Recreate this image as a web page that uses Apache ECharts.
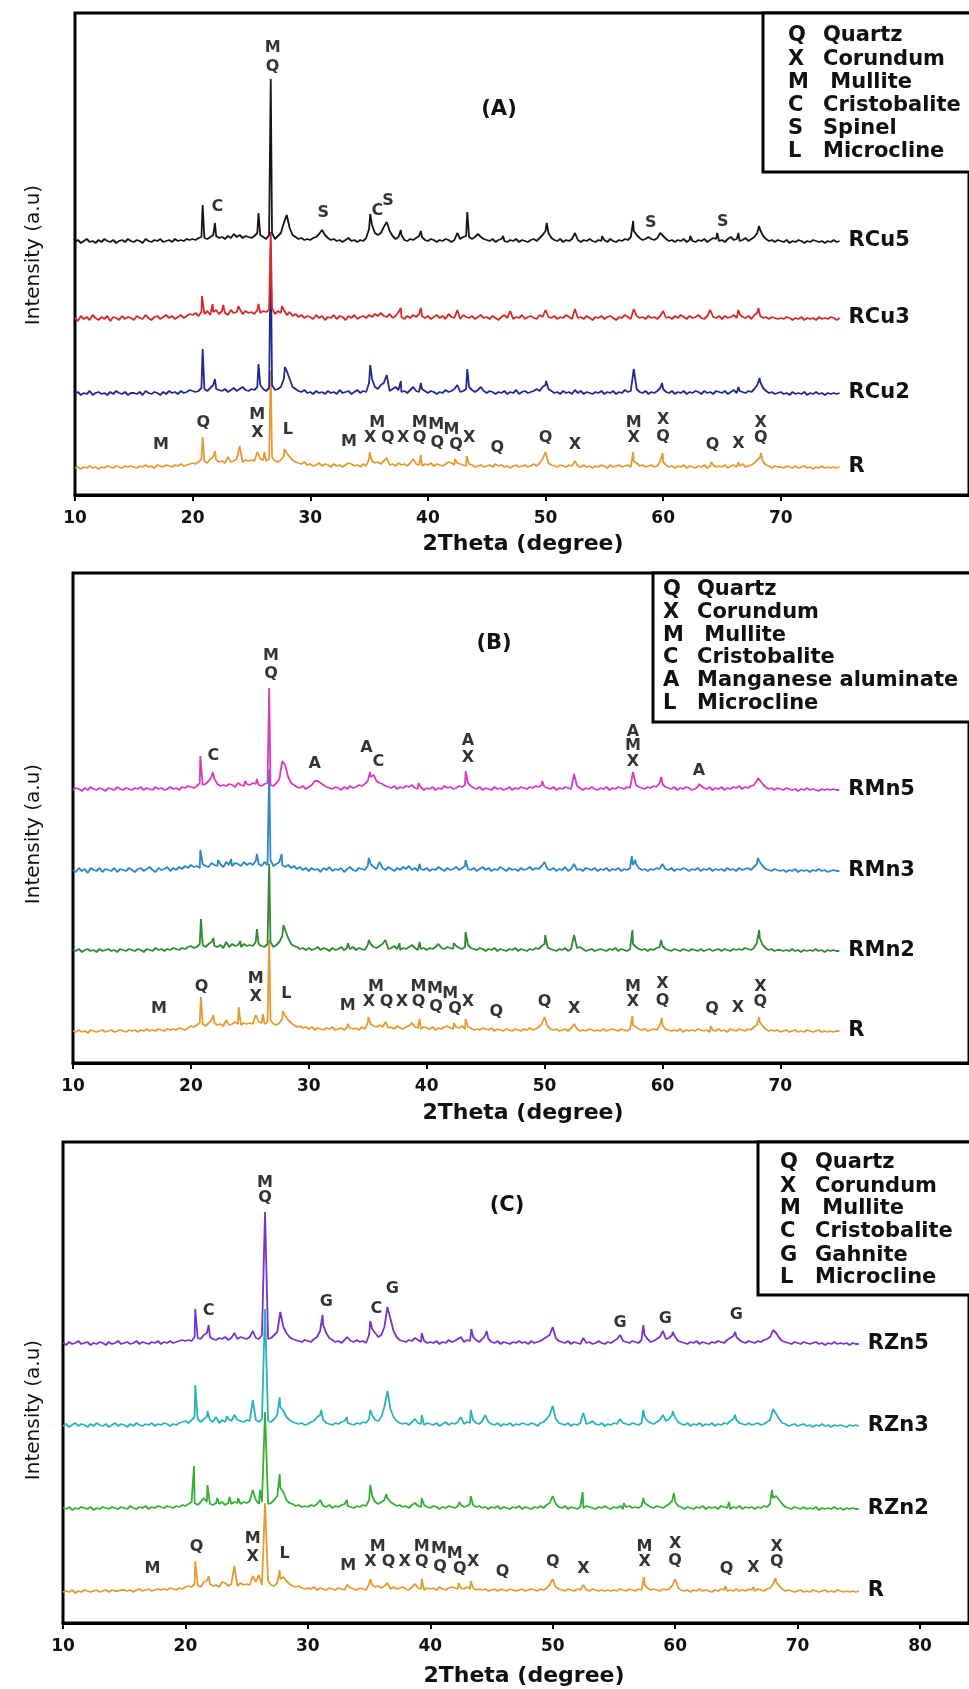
<!DOCTYPE html>
<html>
<head>
<meta charset="utf-8">
<script src="https://cdn.jsdelivr.net/npm/echarts@6/dist/echarts.min.js"></script>
<style>
html,body{margin:0;padding:0;background:#fff;}
#chart{width:969px;height:1689px;}
</style>
</head>
<body>
<div id="chart"></div>
<script>
// ---------- DATA ----------
// 2Theta scan: 10° to 75°, step 0.25°
const scanStart = 10;
const scanStep = 0.25;

const xTicksAB = [10, 20, 30, 40, 50, 60, 70];
const xTicksC = [10, 20, 30, 40, 50, 60, 70, 80];

const namesA = ['R', 'RCu2', 'RCu3', 'RCu5'];
const namesB = ['R', 'RMn2', 'RMn3', 'RMn5'];
const namesC = ['R', 'RZn2', 'RZn3', 'RZn5'];

// vertical offsets of the stacked patterns (a.u.)
const offsetsA = [24, 98, 173, 250];
const offsetsB = [28, 109, 189, 270];
const offsetsC = [28, 111, 194, 276];

const colorsA = ['#e89a32', '#22288f', '#d82a2a', '#151515'];
const colorsB = ['#e89a32', '#2e8a30', '#2b88c8', '#d53cc4'];
const colorsC = ['#e89a32', '#34b034', '#2ab4b8', '#7b32c6'];

// background profiles (intensity every 0.25°)
const profR_A = [
3,4,2,4,3,5,3,4,2,4,3,5,4,3,5,4,3,5,4,5,
4,3,5,4,6,4,5,3,6,5,4,6,5,4,6,5,7,5,6,7,
8,7,9,12,10,8,12,14,11,9,10,8,11,9,10,12,10,9,11,10,
11,10,13,12,11,10,12,14,10,9,11,15,18,14,11,9,8,7,9,6,
7,5,6,8,5,7,6,4,7,5,6,4,6,8,7,5,6,4,7,5,
12,10,8,9,7,10,8,6,7,5,8,6,7,5,8,12,7,6,5,7,
6,8,5,7,6,5,7,9,8,6,8,7,6,5,7,6,4,5,6,4,
5,6,4,7,5,6,4,5,3,5,6,4,5,6,4,5,7,5,8,12,
13,8,6,5,4,6,5,4,6,5,8,5,4,6,4,5,3,5,4,6,
5,3,6,4,5,6,4,5,6,4,10,8,5,6,4,5,6,4,5,10,
9,6,4,5,3,5,4,6,3,5,4,3,5,4,6,3,5,6,4,5,
4,6,3,5,6,4,5,7,4,5,6,8,11,14,9,6,5,3,5,4,
4,3,5,4,3,5,3,4,5,3,4,2,4,3,5,3,4,3,4,3,
4];
const profRCu2 = [
3,5,2,4,3,6,2,4,5,3,4,2,5,3,6,4,3,5,2,4,
4,3,5,2,6,4,3,5,4,2,5,3,6,4,5,3,6,4,5,7,
6,5,6,9,8,6,9,12,8,7,6,8,5,7,9,6,8,10,7,6,
8,7,10,12,8,6,9,12,7,8,10,18,26,18,10,8,6,5,7,4,
5,3,6,4,5,3,6,4,5,3,7,4,5,6,3,5,7,4,6,5,
14,18,10,8,12,14,9,6,8,10,7,5,6,4,7,10,6,5,8,6,
4,6,5,3,5,4,7,5,6,8,7,5,6,8,10,7,5,7,10,6,
4,6,5,3,5,4,6,3,5,4,7,3,5,6,4,5,6,8,6,10,
12,8,6,4,5,3,6,4,5,3,7,4,6,3,5,4,3,5,4,6,
3,5,4,6,3,5,4,7,5,6,12,8,5,4,6,3,5,4,6,9,
8,5,4,6,3,5,4,6,3,5,4,6,5,3,6,4,5,3,6,5,
4,6,3,5,7,4,6,5,4,6,5,8,12,15,9,6,4,5,3,4,
5,3,4,2,5,3,4,3,5,2,4,3,5,3,4,2,4,3,4,3,
4];
const profRCu3 = [
4,1,6,3,5,2,7,4,2,5,3,6,1,5,4,2,6,3,5,4,
2,6,4,3,7,4,2,5,6,3,5,7,4,6,3,5,7,4,6,8,
7,9,6,10,8,11,7,10,12,8,11,9,7,12,9,10,13,8,11,9,
10,8,12,9,11,10,12,14,8,11,9,12,7,10,6,8,5,7,4,6,
5,3,7,4,6,2,5,4,7,3,6,5,2,6,4,7,3,5,6,4,
7,5,8,6,9,6,5,8,4,6,10,5,3,6,4,7,5,8,6,4,
6,3,5,7,4,6,3,8,5,4,6,3,7,5,4,6,3,5,7,4,
5,3,6,4,2,5,7,4,6,3,5,4,7,3,5,6,4,3,7,5,
8,5,4,6,3,5,4,7,5,3,8,4,5,3,6,4,2,5,4,6,
3,5,6,4,2,5,4,7,5,3,8,6,4,5,3,6,4,5,3,6,
7,4,5,3,6,4,7,5,3,6,4,5,7,4,3,6,8,5,4,6,
3,6,4,5,7,4,8,5,4,6,3,7,9,6,4,5,3,5,4,3,
4,3,5,4,2,4,3,5,2,4,3,4,2,5,3,4,3,5,4,2,
4];
const profRCu5 = [
3,5,2,4,6,3,4,2,5,3,6,4,3,5,2,4,5,3,6,4,
3,5,4,2,6,4,3,5,4,6,3,4,5,3,6,4,5,4,6,5,
6,5,7,8,7,6,8,10,9,7,8,6,9,7,11,8,10,7,9,8,
7,9,12,10,8,6,10,12,6,9,12,22,30,17,10,8,6,7,5,6,
5,7,8,11,15,10,7,5,6,4,5,3,5,7,4,5,3,5,4,7,
16,20,12,10,12,18,23,14,9,6,8,10,5,4,6,5,7,9,8,5,
4,6,5,3,5,4,6,5,3,5,7,6,8,9,8,6,8,11,8,6,
5,4,6,3,5,6,4,3,5,4,6,3,5,4,3,5,6,4,7,10,
14,12,7,5,4,6,3,5,4,6,9,5,3,5,4,6,4,3,5,4,
5,3,6,4,3,5,4,6,5,8,14,10,7,5,6,8,6,5,7,12,
9,6,4,5,3,5,4,6,3,5,4,3,5,4,6,3,5,7,6,4,
5,3,6,8,5,6,4,5,7,4,6,8,12,15,9,6,4,5,3,5,
4,3,5,2,4,3,5,4,2,4,3,5,4,3,4,2,4,3,5,3,
4];

const profR_B = [
4,3,5,3,4,2,5,4,3,4,5,3,4,5,3,4,5,4,3,5,
4,5,3,5,4,6,4,5,4,6,5,4,6,5,6,5,7,6,5,7,
9,8,10,12,11,9,12,15,12,10,11,9,12,10,11,13,11,10,12,11,
12,11,14,13,12,11,13,15,11,10,12,16,19,15,12,10,8,9,7,8,
6,8,5,7,6,5,7,6,8,5,6,7,5,8,7,6,7,5,8,6,
12,11,9,8,10,8,9,7,8,6,9,7,6,8,9,12,8,7,6,8,
7,6,8,5,7,6,8,9,7,6,8,7,9,6,8,7,5,6,5,7,
6,5,7,4,6,5,4,6,5,4,6,5,4,6,5,7,5,6,8,11,
12,9,6,5,6,4,5,6,4,7,5,6,4,5,4,6,5,4,5,4,
6,4,5,6,5,4,6,5,4,6,10,8,6,5,6,4,5,6,5,9,
10,6,5,4,5,4,6,3,5,4,5,4,6,5,4,5,3,5,4,6,
4,5,3,6,5,4,6,5,4,6,5,8,10,13,9,6,4,5,4,5,
3,4,5,3,4,5,3,4,3,5,4,3,4,5,3,4,3,4,3,4,
4];
const profRMn2 = [
4,3,5,2,4,5,3,4,2,5,3,4,5,3,4,2,5,4,3,5,
4,3,5,4,2,5,4,3,6,4,5,3,5,4,6,5,4,6,5,7,
8,6,7,10,9,7,10,12,8,7,9,6,8,7,10,8,9,7,10,8,
9,8,12,10,8,7,10,12,7,9,12,18,24,16,10,8,7,5,6,4,
6,4,5,7,4,6,5,3,6,4,5,7,4,6,5,7,4,6,5,4,
9,10,7,6,8,10,7,5,6,8,5,4,6,5,7,9,6,4,5,6,
4,6,5,7,4,6,5,7,6,5,8,6,5,7,9,6,5,4,6,5,
3,5,4,6,3,5,4,3,5,4,6,3,5,4,3,5,4,6,5,8,
10,7,5,4,3,5,4,6,3,5,4,6,7,5,3,4,5,3,4,5,
4,3,5,4,6,3,5,4,3,5,10,7,5,4,5,3,5,4,6,7,
8,5,4,3,5,4,3,5,4,3,5,4,3,5,3,4,5,3,4,5,
3,5,4,3,5,4,5,4,6,5,4,6,11,16,9,6,4,5,3,4,
4,3,4,3,5,3,4,2,4,3,4,3,5,3,4,2,4,3,4,3,
3];
const profRMn3 = [
4,2,6,3,5,1,6,4,3,6,2,5,4,3,6,2,5,4,3,6,
4,2,5,6,3,5,7,4,2,6,4,5,7,3,6,4,7,5,8,6,
9,7,8,6,10,8,7,11,9,8,10,7,12,9,8,11,10,8,12,9,
11,9,13,10,8,12,9,14,8,10,12,9,7,9,6,8,5,7,4,6,
3,6,4,5,2,6,4,7,3,5,4,6,2,5,7,4,3,6,5,4,
8,10,7,5,9,6,4,7,5,3,6,4,7,5,8,4,6,3,5,4,
6,3,5,4,7,5,3,6,4,5,7,4,6,8,5,4,6,3,5,7,
4,6,3,5,4,7,5,3,6,4,5,3,6,4,5,7,4,6,5,8,
7,5,4,6,3,5,4,7,3,5,6,4,5,3,6,5,4,6,3,5,
4,6,3,5,4,6,3,5,4,6,9,10,6,4,5,3,5,4,6,5,
7,5,4,6,3,5,4,6,5,3,5,4,6,3,5,4,6,3,5,4,
5,3,6,4,5,3,6,4,5,6,4,7,10,12,8,5,4,3,5,4,
3,4,2,4,3,5,2,4,3,4,2,4,3,5,3,4,2,3,4,3,
3];
const profRMn5 = [
3,5,4,2,5,3,6,4,3,5,4,2,5,4,3,6,4,3,5,4,
3,5,4,6,3,5,4,3,6,4,5,3,4,6,4,5,3,6,5,7,
6,5,7,10,8,9,12,16,14,9,7,8,7,9,8,6,10,8,7,9,
8,10,9,8,7,9,10,8,7,10,14,22,28,16,10,8,6,5,7,4,
6,8,10,12,10,8,6,5,4,6,5,3,6,4,7,5,6,8,7,9,
12,16,18,12,10,9,7,6,5,7,4,6,5,7,6,8,5,4,6,3,
5,4,6,3,5,4,7,5,6,4,5,7,6,8,10,7,5,4,6,3,
5,4,3,6,4,5,3,4,6,3,5,4,6,5,4,6,5,7,6,8,
6,5,4,6,3,5,4,6,5,4,6,7,5,3,5,4,6,4,3,5,
4,6,3,5,4,6,5,4,6,5,14,8,6,5,4,6,5,7,6,10,
9,6,5,4,6,3,5,4,6,5,3,4,6,7,5,4,6,3,5,4,
6,3,5,4,6,5,7,4,6,5,7,8,12,14,9,6,4,5,3,5,
4,3,5,4,3,4,2,4,3,5,3,4,3,2,4,3,4,3,4,3,
3];

const profR_C = [
3,4,3,5,2,4,3,5,4,3,4,5,3,4,5,3,5,4,4,5,
5,4,5,3,5,6,4,5,6,4,5,6,5,6,5,7,6,5,7,6,
8,9,8,11,10,8,13,14,11,9,10,8,10,12,9,11,10,9,12,10,
11,10,12,13,11,10,12,14,10,9,12,16,18,14,11,9,8,9,7,6,
7,6,8,5,7,6,5,7,6,5,7,6,5,8,7,6,5,7,6,5,
11,10,8,9,7,9,8,6,8,6,7,8,6,5,8,11,7,6,5,7,
6,7,5,8,6,5,7,8,7,6,7,6,8,6,7,5,6,5,6,4,
5,6,4,6,5,4,6,5,4,5,6,4,5,6,5,4,6,5,7,10,
12,8,6,5,4,6,5,4,6,5,7,5,4,6,5,4,5,4,5,4,
5,4,6,5,4,6,5,4,6,5,10,7,5,6,5,4,6,5,6,9,
11,7,5,4,5,3,5,4,6,4,5,4,3,5,4,6,5,4,5,4,
6,4,5,4,6,5,4,6,5,4,6,7,11,13,9,6,4,5,4,3,
4,5,3,4,3,5,4,3,4,5,3,4,3,5,4,3,4,3,4,3,
4];
const profRZn2 = [
4,3,5,2,4,3,5,4,3,5,2,4,3,5,4,3,5,4,3,5,
4,3,6,4,3,5,4,6,3,5,4,6,5,4,6,5,4,6,5,7,
6,8,10,9,7,10,14,10,8,7,9,8,10,7,9,8,10,9,8,10,
9,11,10,12,8,10,12,8,9,12,16,24,20,12,9,8,6,7,5,6,
5,7,6,8,9,6,5,7,4,6,5,7,8,6,5,4,6,5,7,6,
12,16,10,8,10,12,14,10,8,6,7,5,6,4,7,9,6,5,7,5,
4,6,5,3,5,4,6,5,4,6,7,5,6,8,7,5,6,4,5,3,
5,4,6,3,5,4,3,5,4,6,3,5,4,3,5,4,6,4,7,9,
11,8,5,4,6,3,5,4,3,5,4,6,5,4,3,5,4,6,4,3,
5,4,6,3,5,6,4,5,4,6,9,7,5,4,6,5,4,6,8,11,
10,6,5,3,5,4,3,5,4,6,3,5,4,5,3,6,5,4,3,5,
4,6,3,5,4,5,3,5,4,6,5,8,14,16,12,8,5,4,3,5,
4,3,5,3,4,3,5,2,4,3,4,3,5,3,4,2,4,3,4,3,
3];
const profRZn3 = [
3,5,2,4,6,3,5,4,2,5,3,6,4,3,5,2,4,6,3,5,
4,2,5,3,6,4,3,5,4,6,3,5,4,6,5,3,5,4,6,7,
8,6,9,12,10,7,10,12,9,7,8,6,9,7,10,8,7,9,8,7,
9,8,10,9,7,10,9,8,7,10,14,22,18,12,9,7,6,5,6,4,
5,7,8,12,14,9,6,5,4,6,5,7,8,6,5,4,6,5,7,6,
10,14,9,8,12,22,28,20,12,8,6,5,6,4,7,10,6,5,4,6,
5,4,6,3,5,7,4,6,5,7,6,5,7,6,9,6,5,8,10,7,
5,4,6,3,5,4,6,3,5,4,6,5,4,6,5,3,6,7,10,14,
16,10,6,5,4,6,3,5,4,6,4,5,6,8,5,4,6,3,5,4,
6,5,8,6,5,4,6,5,4,6,12,8,6,5,7,9,10,8,10,14,
11,7,5,4,6,3,5,4,6,3,5,4,6,3,5,4,6,5,8,10,
9,6,5,4,6,4,5,6,4,5,7,9,13,15,10,6,5,3,4,5,
3,4,5,3,4,2,4,3,5,3,4,2,4,3,4,3,2,4,3,4,
3];
const profRZn5 = [
4,2,5,3,4,6,3,4,5,2,4,3,5,4,2,5,3,4,6,3,
4,5,3,4,6,3,5,4,3,5,4,6,3,5,4,6,4,5,6,7,
6,7,6,10,9,8,12,14,10,8,7,9,8,10,7,9,11,8,10,9,
8,10,11,9,8,12,10,8,9,12,15,24,20,14,10,8,7,6,5,7,
6,5,8,10,16,22,14,9,7,5,6,4,7,8,6,5,7,5,6,4,
12,18,14,10,12,20,30,28,16,10,7,6,5,7,6,9,7,5,6,4,
5,4,6,3,5,4,7,5,6,8,6,5,7,6,10,7,5,8,12,8,
5,4,6,3,5,4,3,5,4,6,4,5,3,6,4,5,6,8,10,12,
14,9,6,5,4,6,3,5,4,3,6,4,5,3,4,6,4,3,5,4,
6,8,10,6,5,4,6,5,4,7,12,8,5,6,8,10,12,8,9,12,
10,6,5,4,3,5,4,6,3,5,4,3,5,4,6,5,4,7,9,11,
10,7,5,4,6,5,4,6,5,7,8,10,13,14,9,6,5,4,3,5,
4,3,5,4,3,4,5,3,4,2,4,3,5,3,4,3,4,2,4,3,
3];

// sharp peak apexes [2Theta, intensity above offset]
const peaksR_A = [[20.85,34],[21.9,20],[23.0,14],[24.0,25],[25.5,19],[26.1,19],[26.64,100],[27.8,22],[33.3,10],[35.05,19],[36.5,13],[39.4,16],[42.3,12],[43.3,15],[50.0,19],[52.5,10],[57.45,19],[59.95,18],[64.1,9],[66.4,9],[68.3,18]];
const peaksRCu2 = [[20.85,48],[21.9,18],[25.6,33],[26.64,150],[27.85,30],[35.1,32],[36.5,22],[37.7,16],[39.4,14],[42.5,12],[43.35,28],[50.05,16],[57.5,28],[59.9,14],[66.4,10],[68.2,19]];
const peaksRCu3 = [[20.8,26],[21.7,18],[22.6,17],[23.9,16],[25.6,18],[26.64,90],[27.6,16],[37.7,14],[39.4,14],[42.5,12],[47.0,11],[50.0,12],[52.5,13],[57.5,13],[60.0,11],[64.0,12],[66.4,12],[68.1,14]];
const peaksRCu5 = [[20.85,40],[21.9,22],[25.6,32],[26.64,166],[35.1,31],[37.7,15],[39.4,14],[42.5,12],[43.35,33],[46.4,9],[50.1,22],[52.5,12],[54.8,9],[57.45,24],[62.3,9],[64.6,12],[66.4,12],[68.15,19]];

const peaksR_B = [[20.85,38],[21.9,20],[23.0,15],[24.05,28],[25.5,20],[26.1,21],[26.64,95],[27.8,24],[33.3,11],[35.05,18],[36.5,13],[39.4,16],[42.3,12],[43.3,16],[50.0,18],[52.5,11],[57.45,19],[59.95,17],[64.1,9],[68.2,18]];
const peaksRMn2 = [[20.85,35],[21.9,16],[23.0,12],[24.2,13],[25.6,25],[26.64,90],[27.85,29],[33.3,11],[35.1,14],[36.5,14],[37.7,11],[39.4,12],[41.0,10],[42.3,11],[43.3,22],[50.05,19],[52.5,19],[57.45,24],[59.9,14],[68.2,24]];
const peaksRMn3 = [[20.8,24],[22.3,14],[23.4,15],[24.6,14],[25.6,20],[26.64,105],[27.7,20],[35.1,16],[36.0,12],[39.4,10],[43.3,14],[50.0,12],[52.5,10],[57.4,18],[57.7,14],[60.0,10],[68.1,16]];
const peaksRMn5 = [[20.8,37],[21.85,21],[24.6,12],[25.6,14],[26.64,105],[27.75,32],[30.5,12],[35.2,21],[35.6,18],[39.3,10],[43.3,22],[49.8,12],[52.5,19],[57.5,21],[59.9,16],[63.1,9],[68.1,15]];

const peaksR_C = [[20.8,34],[21.9,19],[23.0,13],[24.0,29],[25.5,19],[26.0,20],[26.5,92],[27.7,25],[33.2,10],[35.1,16],[36.5,12],[39.3,16],[42.3,12],[43.3,14],[50.0,16],[52.5,10],[57.45,18],[60.0,16],[64.1,9],[66.4,8],[68.2,17]];
const peaksRZn2 = [[20.7,46],[21.8,27],[22.6,14],[23.6,15],[24.3,14],[25.5,22],[26.1,22],[26.5,100],[27.7,38],[31.0,12],[33.2,12],[35.1,27],[36.4,18],[39.3,14],[42.4,10],[43.3,16],[50.0,16],[52.45,20],[55.8,9],[57.4,14],[59.9,19],[64.4,10],[67.9,22]];
const peaksRZn3 = [[20.8,44],[21.8,18],[22.5,12],[23.4,13],[24.0,14],[25.5,29],[26.5,120],[27.7,32],[31.1,19],[33.2,12],[35.1,19],[36.5,38],[39.3,14],[42.5,12],[43.3,19],[44.5,14],[50.0,23],[52.5,16],[55.5,10],[57.4,19],[59.0,14],[59.8,18],[64.9,14],[68.0,20]];
const peaksRZn5 = [[20.8,38],[21.9,22],[23.3,12],[24.0,14],[25.5,16],[26.5,135],[27.75,35],[31.2,32],[33.2,10],[35.1,26],[36.5,40],[39.3,14],[42.5,10],[43.35,18],[44.6,16],[50.0,20],[52.5,9],[55.5,12],[57.4,22],[59.0,16],[59.8,15],[64.9,15],[68.0,17]];

// phase labels [2Theta, height above offset, letter]
const annotR = [[17.3,26,'M'],[20.9,48,'Q'],[25.5,56,'M'],[25.5,38,'X'],[28.1,41,'L'],[33.3,29,'M'],[35.7,48,'M'],[35.1,33,'X'],[36.6,33,'Q'],[37.9,33,'X'],[39.3,48,'M'],[39.3,33,'Q'],[40.7,46,'M'],[40.8,28,'Q'],[42.0,41,'M'],[42.4,26,'Q'],[43.5,33,'X'],[45.9,23,'Q'],[50.0,33,'Q'],[52.5,26,'X'],[57.5,48,'M'],[57.5,33,'X'],[60.0,51,'X'],[60.0,34,'Q'],[64.2,26,'Q'],[66.4,27,'X'],[68.3,48,'X'],[68.3,33,'Q']];
const annotRCu5 = [[22.1,38,'C'],[26.8,197,'M'],[26.8,178,'Q'],[31.1,32,'S'],[35.7,34,'C'],[36.6,44,'S'],[58.95,22,'S'],[65.06,23,'S']];
const annotRMn5 = [[21.9,37,'C'],[26.8,137,'M'],[26.8,119,'Q'],[30.5,29,'A'],[34.9,45,'A'],[35.9,31,'C'],[43.5,52,'A'],[43.5,35,'X'],[57.5,61,'A'],[57.5,47,'M'],[57.5,31,'X'],[63.1,22,'A']];
const annotRZn5 = [[21.9,36,'C'],[26.5,164,'M'],[26.5,149,'Q'],[31.5,45,'G'],[35.6,38,'C'],[36.9,58,'G'],[55.5,24,'G'],[59.2,28,'G'],[65.0,32,'G']];

const legendA = [['Q','Quartz'],['X','Corundum'],['M',' Mullite'],['C','Cristobalite'],['S','Spinel'],['L','Microcline']];
const legendB = [['Q','Quartz'],['X','Corundum'],['M',' Mullite'],['C','Cristobalite'],['A','Manganese aluminate'],['L','Microcline']];
const legendC = [['Q','Quartz'],['X','Corundum'],['M',' Mullite'],['C','Cristobalite'],['G','Gahnite'],['L','Microcline']];

const panelTitles = ['(A)', '(B)', '(C)'];
const xTitle = '2Theta (degree)';
const yTitle = 'Intensity (a.u)';

// ---------- BUILD ----------
const FONT = 'DejaVu Sans';

function buildData(profile, peaks, offset) {
  const pts = profile.map((v, i) => [scanStart + i * scanStep, offset + v]);
  peaks.forEach(([x, v]) => {
    const idx = pts.findIndex(p => Math.abs(p[0] - x) < 1e-6);
    if (idx >= 0) pts[idx][1] = offset + v; else pts.push([x, offset + v]);
  });
  pts.sort((a, b) => a[0] - b[0]);
  return pts;
}

const panels = [
  { names: namesA, offsets: offsetsA, colors: colorsA, profiles: [profR_A, profRCu2, profRCu3, profRCu5],
    peaks: [peaksR_A, peaksRCu2, peaksRCu3, peaksRCu5], annotTop: annotRCu5,
    grid: { left: 75, top: 13, width: 908, height: 482 }, xMax: 86, yMax: 482, ticks: xTicksAB },
  { names: namesB, offsets: offsetsB, colors: colorsB, profiles: [profR_B, profRMn2, profRMn3, profRMn5],
    peaks: [peaksR_B, peaksRMn2, peaksRMn3, peaksRMn5], annotTop: annotRMn5,
    grid: { left: 73, top: 573, width: 908, height: 490 }, xMax: 86, yMax: 490, ticks: xTicksAB },
  { names: namesC, offsets: offsetsC, colors: colorsC, profiles: [profR_C, profRZn2, profRZn3, profRZn5],
    peaks: [peaksR_C, peaksRZn2, peaksRZn3, peaksRZn5], annotTop: annotRZn5,
    grid: { left: 63, top: 1142, width: 917, height: 481 }, xMax: 84, yMax: 481, ticks: xTicksC }
];

const grids = [], xAxes = [], yAxes = [], series = [];
panels.forEach((p, k) => {
  grids.push(Object.assign({ show: true, borderColor: '#000', borderWidth: 3, backgroundColor: 'transparent' }, p.grid));
  xAxes.push({
    gridIndex: k, type: 'value', min: 10, max: p.xMax, interval: 10,
    axisLine: { show: true, onZero: false, lineStyle: { color: '#000', width: 3 } },
    axisTick: { show: true, inside: false, length: 6, lineStyle: { color: '#000', width: 2 }, customValues: p.ticks },
    axisLabel: { show: true, customValues: p.ticks, margin: 15, color: '#111', fontSize: 17, fontWeight: 'bold', fontFamily: FONT,
      formatter: v => (p.ticks.indexOf(v) >= 0 ? String(v) : '') },
    splitLine: { show: false }
  });
  yAxes.push({ gridIndex: k, type: 'value', min: 0, max: p.yMax, show: false });
  p.names.forEach((nm, j) => {
    series.push({
      type: 'line', name: nm, xAxisIndex: k, yAxisIndex: k,
      data: buildData(p.profiles[j], p.peaks[j], p.offsets[j]),
      showSymbol: false, symbol: 'none', silent: true,
      lineStyle: { color: p.colors[j], width: 1.8 },
      itemStyle: { color: p.colors[j] },
      endLabel: { show: true, formatter: () => nm, distance: 9, color: '#111', fontSize: 21, fontWeight: 'bold', fontFamily: FONT },
      z: 2 + j
    });
  });
  const labels = annotR.map(a => [a[0], p.offsets[0] + a[1], a[2]])
    .concat(p.annotTop.map(a => [a[0], p.offsets[3] + a[1], a[2]]));
  series.push({
    type: 'scatter', xAxisIndex: k, yAxisIndex: k, data: labels, symbolSize: 1, silent: true,
    itemStyle: { color: 'rgba(0,0,0,0)' },
    label: { show: true, position: 'inside', formatter: q => q.data[2], color: '#000', fontSize: 16, fontWeight: 'bold', fontFamily: FONT },
    z: 10
  });
});

function txt(x, y, s, size, weight, align, rot) {
  return { type: 'text', x: x, y: y, rotation: rot || 0, z: 100, silent: true,
    style: { text: s, fill: '#111', fontSize: size, fontWeight: weight, fontFamily: FONT, textAlign: align, textVerticalAlign: 'middle' } };
}
const graphics = [];
// legend boxes
const boxes = [
  { rect: [763, 13, 240, 159], lx: 788, nx: 823, ys: [36, 60, 83, 106, 129, 152], items: legendA },
  { rect: [653, 573, 350, 149], lx: 663, nx: 697, ys: [590, 613, 636, 658, 681, 704], items: legendB },
  { rect: [758, 1142, 245, 153], lx: 780, nx: 815, ys: [1163, 1187, 1209, 1232, 1256, 1278], items: legendC }
];
boxes.forEach(b => {
  graphics.push({ type: 'rect', z: 90, silent: true, shape: { x: b.rect[0], y: b.rect[1], width: b.rect[2], height: b.rect[3] },
    style: { fill: '#fff', stroke: '#000', lineWidth: 3 } });
  b.items.forEach((it, i) => {
    graphics.push(txt(b.lx, b.ys[i], it[0], 21, 'bold', 'left'));
    graphics.push(txt(b.nx, b.ys[i], it[1], 21, 'bold', 'left'));
  });
});
// panel tags
graphics.push(txt(499, 110, panelTitles[0], 21, 'bold', 'center'));
graphics.push(txt(494, 644, panelTitles[1], 21, 'bold', 'center'));
graphics.push(txt(507, 1206, panelTitles[2], 21, 'bold', 'center'));
// axis titles
graphics.push(txt(523, 544, xTitle, 22, 'bold', 'center'));
graphics.push(txt(523, 1113, xTitle, 22, 'bold', 'center'));
graphics.push(txt(524, 1676, xTitle, 22, 'bold', 'center'));
graphics.push(txt(34, 255, yTitle, 20, 'normal', 'center', Math.PI / 2));
graphics.push(txt(34, 834, yTitle, 20, 'normal', 'center', Math.PI / 2));
graphics.push(txt(34, 1410, yTitle, 20, 'normal', 'center', Math.PI / 2));

const chart = echarts.init(document.getElementById('chart'), null, { renderer: 'canvas' });
chart.setOption({
  animation: false,
  backgroundColor: '#fff',
  grid: grids,
  xAxis: xAxes,
  yAxis: yAxes,
  series: series,
  graphic: graphics
});
</script>
</body>
</html>
